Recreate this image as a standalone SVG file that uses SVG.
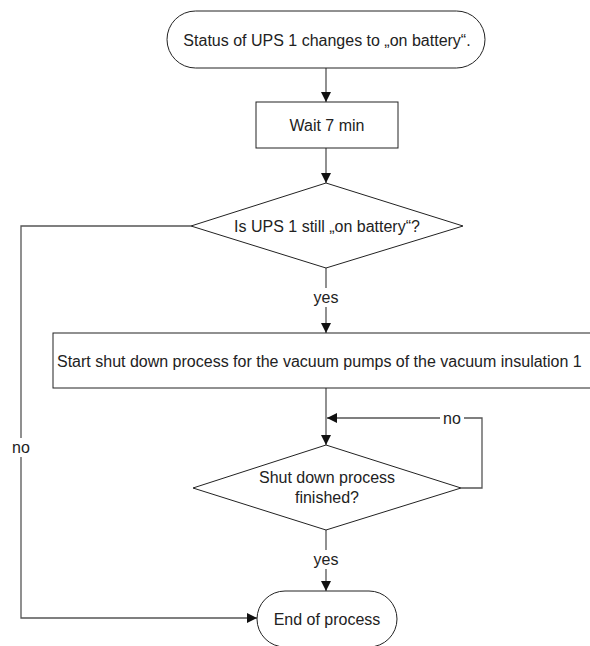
<svg xmlns="http://www.w3.org/2000/svg" width="590" height="646" viewBox="0 0 590 646">
<style>
.shape{fill:#fff;stroke:#222;stroke-width:1}
.conn{fill:none;stroke:#555;stroke-width:1.3}
text{font-family:"Liberation Sans",Arial,sans-serif;font-size:16px;fill:#222}
.c{text-anchor:middle}
</style>
<defs>
<marker id="ah" viewBox="0 0 10 10" refX="10" refY="5" markerWidth="10" markerHeight="10" markerUnits="userSpaceOnUse" orient="auto">
<path d="M0,0 L10,5 L0,10 Z" fill="#111"/>
</marker>
</defs>
<g id="connectors">
<line class="conn" x1="326" y1="68" x2="326" y2="102" marker-end="url(#ah)"/>
<line class="conn" x1="326" y1="148" x2="326" y2="183" marker-end="url(#ah)"/>
<line class="conn" x1="326" y1="268" x2="326" y2="288"/>
<line class="conn" x1="326" y1="307" x2="326" y2="333" marker-end="url(#ah)"/>
<line class="conn" x1="326" y1="388" x2="326" y2="445" marker-end="url(#ah)"/>
<polyline class="conn" points="461,488 482,488 482,418 464,418"/>
<line class="conn" x1="440" y1="418" x2="327" y2="418" marker-end="url(#ah)"/>
<line class="conn" x1="326" y1="530" x2="326" y2="550"/>
<line class="conn" x1="326" y1="569" x2="326" y2="591" marker-end="url(#ah)"/>
<polyline class="conn" points="191,226 21,226 21,438"/>
<polyline class="conn" points="21,457 21,618 257,618" marker-end="url(#ah)"/>
<text class="c" x="326" y="303">yes</text>
<text class="c" x="326" y="565">yes</text>
<text class="c" x="452" y="424">no</text>
<text class="c" x="21" y="453">no</text>
</g>
<g id="start">
<rect class="shape" x="167" y="11" width="318" height="57" rx="28.5" ry="28.5"/>
<text class="c" x="327" y="46">Status of UPS 1 changes to „on battery“.</text>
</g>
<g id="wait">
<rect class="shape" x="256" y="102" width="142" height="46"/>
<text class="c" x="327" y="131">Wait 7 min</text>
</g>
<g id="decision1">
<polygon class="shape" points="326,183 463,226 326,268 191,226"/>
<text class="c" x="327" y="232">Is UPS 1 still „on battery“?</text>
</g>
<g id="shutdown">
<rect class="shape" x="53" y="333" width="560" height="55"/>
<text x="57" y="367">Start shut down process for the vacuum pumps of the vacuum insulation 1</text>
</g>
<g id="decision2">
<polygon class="shape" points="326,445 461,488 326,530 193,488"/>
<text class="c" x="327" y="483">Shut down process</text>
<text class="c" x="327" y="503">finished?</text>
</g>
<g id="end">
<rect class="shape" x="257" y="591" width="140" height="56" rx="28" ry="28"/>
<text class="c" x="327" y="625">End of process</text>
</g>
</svg>
